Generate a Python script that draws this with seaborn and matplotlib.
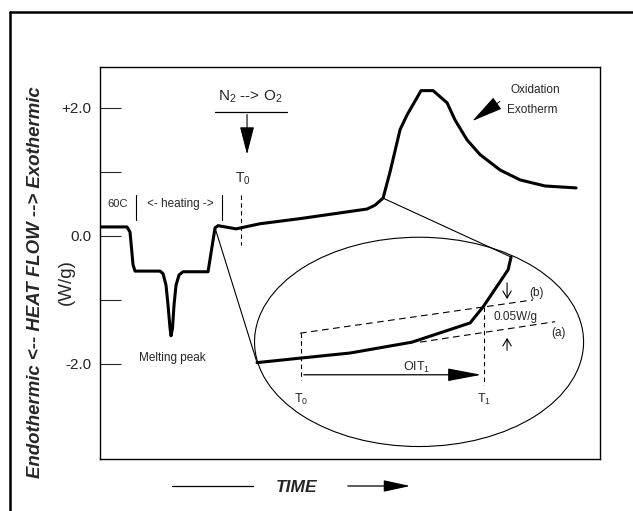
import matplotlib
matplotlib.use("Agg")
import matplotlib.pyplot as plt
from matplotlib.patches import Ellipse
from matplotlib.lines import Line2D
import seaborn as sns
import pandas as pd

# main DSC trace (time in arbitrary units, heat flow in W/g)
time_main = [0, 5.4, 6.0, 6.6, 7.0, 12.0, 12.6, 13.2, 13.6, 14.0, 14.2, 14.5, 14.8,
             15.2, 15.8, 16.6, 21.6, 23.0, 23.6, 27.2, 32.0, 40.0, 53.4, 55.0, 56.6,
             58.0, 60.0, 61.4, 64.2, 66.6, 69.4, 71.0, 73.4, 76.0, 80.0, 84.0, 89.0, 95.2]
flow_main = [0.14, 0.14, 0.06, -0.45, -0.55, -0.55, -0.59, -0.77, -1.08, -1.44, -1.56,
             -1.44, -1.08, -0.77, -0.61, -0.56, -0.56, 0.125, 0.16, 0.11, 0.19, 0.27,
             0.42, 0.48, 0.59, 1.0, 1.66, 1.89, 2.27, 2.27, 2.08, 1.81, 1.5, 1.27,
             1.03, 0.875, 0.78, 0.75]

# magnified onset region drawn inside the ellipse
time_zoom = [31.4, 40.0, 50.0, 62.4, 74.0, 76.6, 81.6, 82.2]
flow_zoom = [-1.98, -1.91, -1.83, -1.66, -1.36, -1.11, -0.53, -0.33]

# offset baseline (b) and tangent baseline (a)
time_b = [40.0, 86.6]
flow_b = [-1.52, -1.0]
time_a = [64.0, 91.0]
flow_a = [-1.66, -1.34]

t0_zoom = 40.2
t1_zoom = 76.8
t0_main = 28.2

ytick_vals = [2, 1, 0, -1, -2]
ytick_text = ["+2.0", "", "0.0", "", "-2.0"]

sns.set_theme(style="white")
plt.rcParams["font.family"] = ["Liberation Sans", "DejaVu Sans"]
plt.rcParams["mathtext.fontset"] = "custom"
plt.rcParams["mathtext.rm"] = "Liberation Sans"
plt.rcParams["mathtext.it"] = "Liberation Sans:italic"

fig = plt.figure(figsize=(6.33, 5.11), dpi=100)
ax = fig.add_axes([0.158, 0.102, 0.790, 0.767])

main_df = pd.DataFrame({"time": time_main, "flow": flow_main})
zoom_df = pd.DataFrame({"time": time_zoom, "flow": flow_zoom})
sns.lineplot(data=main_df, x="time", y="flow", sort=False, color="black", lw=2.2, ax=ax)
sns.lineplot(data=zoom_df, x="time", y="flow", sort=False, color="black", lw=2.2, ax=ax)
ax.plot(time_b, flow_b, color="black", lw=0.8, ls=(0, (6, 4)))
ax.plot(time_a, flow_a, color="black", lw=0.8, ls=(0, (6, 4)))

# magnifier ellipse and connector lines
ax.add_patch(Ellipse((63.8, -1.656), 65.8, 3.27, fill=False, ec="black", lw=0.8))
ax.plot([23.0, time_zoom[0]], [0.125, flow_zoom[0]], color="black", lw=0.8)
ax.plot([56.6, time_zoom[-1]], [0.59, flow_zoom[-1]], color="black", lw=0.8)

# T0 / T1 markers inside ellipse
ax.plot([t0_zoom, t0_zoom], [-1.52, -2.25], color="black", lw=0.8, ls=(0, (4, 3)))
ax.plot([t1_zoom, t1_zoom], [-1.11, -2.33], color="black", lw=0.8, ls=(0, (4, 3)))
ax.annotate("", xy=(t1_zoom, -2.17), xytext=(t0_zoom, -2.17),
            arrowprops=dict(arrowstyle="-|>,head_length=2.1,head_width=0.4",
                            mutation_scale=10, color="black", lw=0.9))
ax.text(63.4, -2.05, "OIT$_1$", ha="center", va="center", fontsize=9)
ax.text(t0_zoom, -2.56, "T$_0$", ha="center", va="center", fontsize=9)
ax.text(t1_zoom, -2.56, "T$_1$", ha="center", va="center", fontsize=9)
ax.text(87.2, -0.89, "(b)", ha="center", va="center", fontsize=8.5)
ax.text(91.6, -1.52, "(a)", ha="center", va="center", fontsize=8.5)
ax.text(83.0, -1.27, "0.05W/g", ha="center", va="center", fontsize=8.5)
ax.annotate("", xy=(81.4, -1.03), xytext=(81.4, -0.69),
            arrowprops=dict(arrowstyle="->,head_length=0.5,head_width=0.3",
                            mutation_scale=10, color="black", lw=0.8))
ax.annotate("", xy=(81.4, -1.55), xytext=(81.4, -1.83),
            arrowprops=dict(arrowstyle="->,head_length=0.5,head_width=0.3",
                            mutation_scale=10, color="black", lw=0.8))

# gas switch annotation
ax.text(30.0, 2.17, "N$_2$ --> O$_2$", ha="center", va="center", fontsize=11)
ax.plot([23.0, 37.4], [1.94, 1.94], color="black", lw=0.9)
ax.annotate("", xy=(29.4, 1.23), xytext=(29.4, 1.94),
            arrowprops=dict(arrowstyle="-|>,head_length=1.75,head_width=0.45",
                            mutation_scale=10, color="black", lw=0.8))
ax.text(28.6, 0.9, "T$_0$", ha="center", va="center", fontsize=10)
ax.plot([t0_main, t0_main], [0.64, -0.14], color="black", lw=0.8, ls=(0, (4, 3)))

# heating segment labels
ax.text(3.6, 0.5, "60C", ha="center", va="center", fontsize=8)
ax.plot([7.2, 7.2], [0.64, 0.25], color="black", lw=0.8)
ax.text(16.0, 0.5, "<- heating ->", ha="center", va="center", fontsize=8.5)
ax.plot([24.4, 24.4], [0.64, 0.25], color="black", lw=0.8)
ax.text(14.4, -1.9, "Melting peak", ha="center", va="center", fontsize=8.5)

# oxidation exotherm
ax.text(87.0, 2.28, "Oxidation", ha="center", va="center", fontsize=8.5)
ax.text(86.4, 1.97, "Exotherm", ha="center", va="center", fontsize=8.5)
ax.annotate("", xy=(74.0, 1.77), xytext=(80.4, 2.125),
            arrowprops=dict(arrowstyle="-|>,head_length=2.0,head_width=0.45",
                            mutation_scale=10, color="black", lw=0.7))

ax.set_xlim(0, 100)
ax.set_ylim(-3.484, 2.64)
ax.set_xticks([])
ax.set_yticks(ytick_vals)
ax.set_yticklabels(ytick_text, fontsize=11)
ax.tick_params(axis="y", direction="in", length=15, width=0.8, pad=6, left=True)
ax.set_xlabel("")
ax.set_ylabel("")
for s in ax.spines.values():
    s.set_color("black")
    s.set_linewidth(1.0)

# labels outside the axes
fig.text(36 / 633, 1 - 282 / 511, "Endothermic <-- HEAT FLOW --> Exothermic",
         rotation=90, ha="center", va="center", fontsize=13.4,
         fontweight="bold", style="italic")
fig.text(66 / 633, 1 - 282 / 511, "(W/g)", rotation=90, ha="center", va="center",
         fontsize=13.5)
fig.text(297 / 633, 1 - 488 / 511, "TIME", ha="center", va="center",
         fontsize=12.5, fontweight="bold", style="italic")
fig.add_artist(Line2D([172 / 633, 253 / 633], [1 - 486 / 511, 1 - 486 / 511],
                      color="black", lw=0.9))
ax.annotate("", xy=(413 / 633, 1 - 486 / 511), xytext=(345 / 633, 1 - 486 / 511),
            xycoords="figure fraction", textcoords="figure fraction",
            arrowprops=dict(arrowstyle="-|>,head_length=1.65,head_width=0.36",
                            mutation_scale=10, color="black", lw=0.9))

# outer frame (top and left edges)
fig.add_artist(Line2D([10 / 633, 1.0], [1 - 12 / 511, 1 - 12 / 511], color="black", lw=1.8))
fig.add_artist(Line2D([10 / 633, 10 / 633], [0.0, 1 - 12 / 511], color="black", lw=1.8))

fig.savefig("out.png", dpi=100)
